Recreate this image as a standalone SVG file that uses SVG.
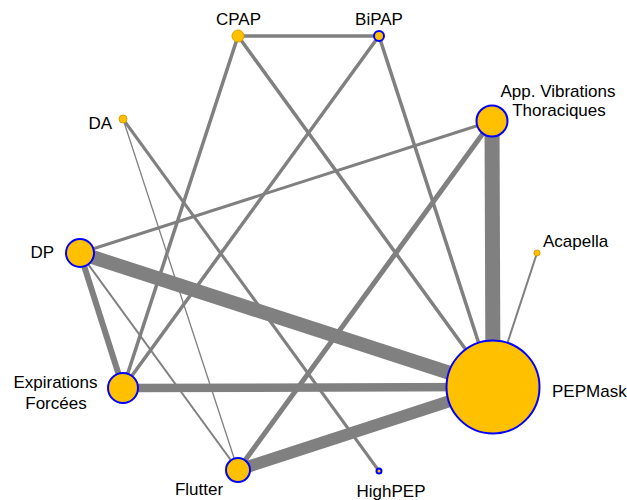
<svg xmlns="http://www.w3.org/2000/svg" width="627" height="500" viewBox="0 0 627 500">
<style>
.e{stroke:#808080;fill:none}
.n{fill:#FFC000;stroke:#0000FF;stroke-width:2}
.s{fill:#FFC000;stroke:#E0A000;stroke-width:1}
text{font-family:"Liberation Sans",Arial,sans-serif;font-size:17px;fill:#000}
</style>
<rect width="627" height="500" fill="#fff"/>
<g id="edges">
<line class="e" x1="238" y1="36" x2="379" y2="36" stroke-width="3.5"/>
<line class="e" x1="238" y1="36" x2="123" y2="388" stroke-width="3.5"/>
<line class="e" x1="238" y1="36" x2="493" y2="387" stroke-width="3.5"/>
<line class="e" x1="379" y1="36" x2="123" y2="388" stroke-width="3.5"/>
<line class="e" x1="379" y1="36" x2="493" y2="387" stroke-width="3.5"/>
<line class="e" x1="492" y1="121" x2="80" y2="253" stroke-width="3"/>
<line class="e" x1="492" y1="121" x2="493" y2="387" stroke-width="15"/>
<line class="e" x1="492" y1="121" x2="238" y2="470" stroke-width="5"/>
<line class="e" x1="123" y1="119" x2="238" y2="470" stroke-width="1.3"/>
<line class="e" x1="123" y1="119" x2="379" y2="471" stroke-width="3"/>
<line class="e" x1="80" y1="253" x2="493" y2="387" stroke-width="14"/>
<line class="e" x1="80" y1="253" x2="123" y2="388" stroke-width="6"/>
<line class="e" x1="80" y1="253" x2="238" y2="470" stroke-width="2"/>
<line class="e" x1="123" y1="388" x2="493" y2="387" stroke-width="8.5"/>
<line class="e" x1="238" y1="470" x2="493" y2="387" stroke-width="12"/>
<line class="e" x1="537" y1="253" x2="493" y2="387" stroke-width="2"/>
</g>
<g id="node-cpap"><circle class="s" cx="238" cy="36" r="6"/><text x="238.5" y="25" text-anchor="middle">CPAP</text></g>
<g id="node-bipap"><circle class="n" cx="379" cy="36" r="5"/><text x="379" y="25" text-anchor="middle">BiPAP</text></g>
<g id="node-appvib"><circle class="n" cx="492" cy="121" r="15.5"/><text x="558" y="97" text-anchor="middle">App. Vibrations</text><text x="559" y="116" text-anchor="middle">Thoraciques</text></g>
<g id="node-da"><circle class="s" cx="123" cy="119" r="4"/><text x="112" y="129" text-anchor="end">DA</text></g>
<g id="node-acapella"><circle class="s" cx="537" cy="253" r="3"/><text x="543" y="247">Acapella</text></g>
<g id="node-dp"><circle class="n" cx="80" cy="253" r="14"/><text x="54" y="258" text-anchor="end">DP</text></g>
<g id="node-expirations"><circle class="n" cx="123" cy="388" r="15"/><text x="55.5" y="388" text-anchor="middle">Expirations</text><text x="56" y="409" text-anchor="middle">Forcées</text></g>
<g id="node-pepmask"><circle class="n" cx="493" cy="387" r="46.5"/><text x="552" y="397">PEPMask</text></g>
<g id="node-flutter"><circle class="n" cx="238" cy="470" r="12"/><text x="199" y="495" text-anchor="middle">Flutter</text></g>
<g id="node-highpep"><circle class="n" cx="379" cy="471" r="2.5" stroke-width="1.5"/><text x="391" y="497" text-anchor="middle">HighPEP</text></g>
</svg>
